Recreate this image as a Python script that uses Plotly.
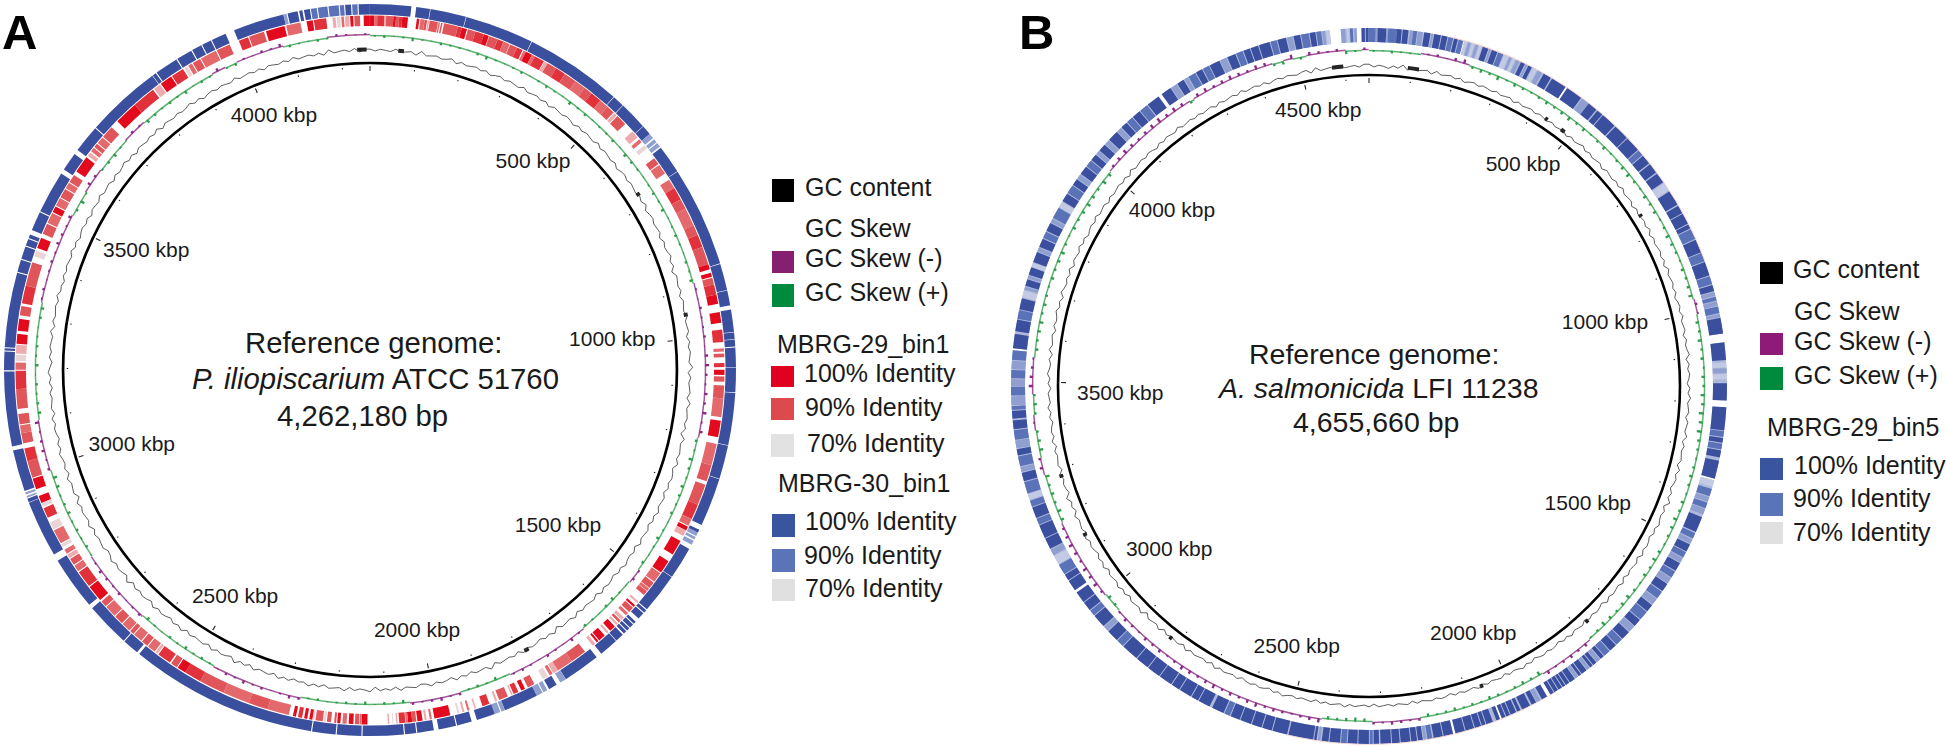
import plotly.graph_objects as go

W, H = 1946, 747
LEN_A, LEN_B = 4262.18, 4655.66

# ---- identity rings: (start kbp, end kbp, % identity) -------------------------
RED_A = [(0,8,100),(8,14,85),(14,28,95),(28,31,80),(31,45,90),(45,50,100),(50,56,90),(56,62,95),(62,73,100),
(90,95,100),(97,105,85),(105,110,90),(111,114,80),(115,131,90),(132,135,85),(137,140,90),(143,170,90),(170,178,95),(178,188,100),
(190,205,90),(205,222,95),(222,232,100),(233,250,90),(250,262,95),(262,275,85),(276,290,90),(290,302,95),(304,309,85),(309,322,100),
(322,328,85),(328,348,95),(349,356,80),(356,375,90),(375,395,95),(395,420,90),(420,441,85),(441,458,90),(458,480,95),(480,498,85),
(498,514,90),(516,522,80),(524,545,90),(565,580,80),(585,592,85),(600,608,70),(631,645,90),(647,667,85),(681,700,85),(700,725,95),
(725,745,90),(745,780,85),(780,800,90),(800,825,95),(825,860,90),(860,870,100),(877,885,100),(887,900,90),(900,920,95),(920,938,100),
(954,975,100),(988,1012,95),(1024,1030,85),(1034,1041,90),(1052,1060,95),(1065,1075,100),(1078,1088,90),(1095,1120,90),(1120,1156,85),
(1163,1195,100),(1208,1250,85),(1250,1282,90),(1289,1330,90),(1330,1360,95),(1360,1374,85),(1376,1384,100),(1385,1396,80),(1407,1437,100),
(1452,1478,100),(1480,1500,85),(1502,1515,90),(1516,1522,85),(1523,1532,90),(1548,1552,80),(1558,1562,100),(1564,1575,90),(1578,1584,85),
(1590,1596,80),(1598,1603,90),(1606,1610,80),(1614,1626,100),(1630,1634,80),(1640,1654,100),(1656,1660,100),(1664,1670,80),(1689,1720,90),
(1720,1752,85),(1752,1762,80),(1764,1770,85),(1774,1785,70),(1804,1818,90),(1824,1832,100),(1838,1848,95),(1850,1853,80),(1860,1878,90),
(1882,1886,80),(1898,1912,95),(1925,1928,80),(1938,1942,85),(1948,1952,80),(1958,1962,70),(1976,2007,100),(2012,2016,85),(2022,2026,80),
(2030,2040,100),(2042,2050,90),(2050,2058,100),(2058,2062,85),(2063,2075,95),(2078,2081,80),(2086,2088,70),(2094,2097,80),(2136,2147,100),
(2147,2151,85),(2152,2160,90),(2163,2172,100),(2176,2184,85),(2188,2194,100),(2196,2200,90),(2206,2214,90),(2216,2220,70),(2222,2236,90),
(2238,2241,70),(2242,2248,100),(2252,2258,100),(2262,2270,95),(2274,2280,100),(2288,2330,85),(2330,2368,90),(2368,2420,85),(2420,2470,90),
(2470,2503,95),(2503,2520,100),(2522,2535,90),(2538,2565,95),(2567,2572,80),(2574,2590,85),(2592,2605,90),(2607,2625,85),(2627,2635,90),
(2637,2655,85),(2657,2675,90),(2677,2700,85),(2702,2714,90),(2718,2750,100),(2752,2785,95),(2787,2800,85),(2802,2815,90),(2817,2825,80),
(2827,2836,85),(2842,2848,70),(2850,2878,85),(2880,2895,70),(2905,2925,95),(2928,2935,70),(2936,2950,100),(2964,2985,100),(2987,3020,90),
(3020,3045,95),(3055,3075,90),(3075,3090,85),(3092,3112,90),(3122,3160,90),(3160,3195,95),(3197,3211,85),(3214,3226,70),(3228,3245,80),
(3247,3266,100),(3272,3295,100),(3302,3320,90),(3325,3360,95),(3360,3406,90),(3418,3430,70),(3435,3456,100),(3464,3485,90),(3487,3508,85),
(3510,3522,100),(3524,3540,85),(3542,3560,90),(3562,3574,85),(3576,3592,90),(3600,3633,100),(3637,3645,80),(3648,3656,85),(3658,3666,90),
(3668,3682,85),(3684,3708,90),(3724,3770,100),(3770,3815,95),(3818,3832,80),(3834,3858,100),(3860,3885,95),(3888,3895,70),(3897,3905,85),
(3907,3923,90),(3925,3957,85),(3959,3986,90),(4005,4024,95),(4026,4056,90),(4060,4097,100),(4100,4128,85),(4140,4152,100),(4154,4178,95),
(4190,4196,80),(4198,4205,70),(4207,4212,85),(4214,4222,80),(4224,4230,100),(4232,4243,90),(4250,4262,100)]

BLUE_A = [(0,77,100),(86,112,100),(113,180,100),(181,310,100),(311,494,100),(495,517,100),(518,571,100),(572,590,100),(590,600,80),
(603,610,80),(612,620,80),(623,676,100),(677,865,100),(866,916,100),(917,945,100),(953,995,100),(996,1008,100),(1009,1022,100),(1024,1060,100),
(1061,1107,100),(1108,1206,100),(1207,1270,100),(1271,1362,100),(1372,1378,100),(1378,1385,80),(1387,1392,80),(1395,1403,80),(1412,1473,100),
(1474,1549,100),(1551,1557,100),(1559,1572,100),(1580,1585,100),(1587,1595,100),(1597,1603,100),(1605,1611,100),(1614,1630,100),(1631,1667,100),
(1678,1748,100),(1748,1760,80),(1768,1784,100),(1788,1796,80),(1798,1810,80),(1810,1875,100),(1875,1882,80),(1884,1895,80),(1895,1930,100),
(1940,1968,100),(1970,2003,100),(2012,2043,100),(2045,2066,100),(2068,2145,100),(2147,2193,100),(2195,2239,100),(2241,2594,100),(2599,2630,100),
(2632,2716,100),(2724,2825,100),(2838,2945,100),(2946,2953,100),(2955,2958,80),(2961,2965,80),(2968,3046,100),(3054,3194,100),(3196,3231,100),
(3233,3237,100),(3239,3379,100),(3381,3404,100),(3406,3430,100),(3432,3445,100),(3447,3454,100),(3463,3499,100),(3501,3581,100),(3590,3625,100),
(3634,3686,100),(3688,3830,100),(3831,3838,100),(3840,3884,100),(3886,3916,100),(3918,3937,100),(3939,3957,100),(3959,3987,100),(4004,4100,100),
(4100,4106,80),(4108,4127,100),(4130,4136,100),(4139,4150,100),(4152,4163,90),(4165,4183,90),(4185,4204,90),(4206,4214,90),(4216,4227,100),
(4229,4239,90),(4241,4262,100)]

BLUE_B = [(0,14,90),(14,18,80),(18,36,100),(36,40,80),(40,58,90),(58,68,100),(70,82,100),(85,92,80),(92,100,90),(102,112,80),(115,128,100),(130,134,80),
(136,150,100),(152,164,100),(166,176,90),(178,186,100),(188,198,90),(200,206,70),(208,214,80),(216,222,70),(224,230,80),(232,238,70),(240,252,100),
(254,258,80),(260,272,100),(274,285,90),(287,297,70),(299,304,80),(306,312,70),(314,322,80),(325,334,100),(336,340,80),(342,350,100),(353,362,70),
(364,374,80),(378,395,100),(398,431,100),(435,470,100),(473,490,80),(490,510,100),(513,526,100),(528,560,100),(563,596,100),(598,630,100),(632,644,90),
(646,666,100),(669,690,100),(693,715,100),(718,735,70),(738,770,100),(773,790,100),(792,815,100),(817,826,100),(828,850,90),(852,880,100),(882,900,90),
(902,931,100),(933,950,90),(952,965,100),(967,975,80),(977,985,90),(987,996,80),(998,1012,90),(1014,1020,80),(1022,1055,100),(1073,1110,100),(1115,1125,70),
(1127,1137,80),(1139,1150,70),(1158,1194,100),(1208,1256,100),(1258,1270,90),(1272,1282,100),(1284,1296,90),(1298,1313,100),(1320,1358,100),(1362,1376,70),
(1380,1396,90),(1398,1408,80),(1410,1422,90),(1424,1436,80),(1442,1475,100),(1478,1490,90),(1492,1502,80),(1504,1520,100),(1522,1534,90),(1536,1546,80),
(1548,1566,100),(1568,1582,90),(1584,1596,80),(1598,1616,100),(1618,1634,90),(1636,1650,80),(1652,1668,100),(1670,1690,90),(1692,1708,100),(1710,1724,80),
(1726,1745,100),(1747,1762,90),(1764,1780,100),(1782,1796,90),(1798,1806,100),(1808,1816,80),(1818,1826,100),(1828,1834,100),(1836,1842,80),(1844,1856,100),
(1858,1864,100),(1866,1872,80),(1874,1886,100),(1888,1896,100),(1898,1904,100),(1906,1914,100),(1916,1924,100),(1926,1934,100),(1942,1954,100),(1958,1966,80),
(1968,1978,100),(1982,2000,100),(2004,2011,100),(2014,2026,100),(2028,2036,100),(2038,2046,100),(2050,2058,100),(2066,2080,100),(2082,2090,100),(2092,2105,100),
(2107,2125,100),(2127,2147,100),(2152,2172,100),(2174,2193,100),(2196,2206,90),(2208,2214,80),(2216,2226,100),(2228,2240,100),(2242,2262,100),(2264,2280,100),
(2282,2304,100),(2307,2318,100),(2320,2326,90),(2328,2350,100),(2352,2372,100),(2374,2386,90),(2388,2410,100),(2412,2426,100),(2429,2434,80),(2437,2442,100),
(2444,2496,100),(2499,2530,100),(2532,2552,100),(2554,2575,100),(2577,2600,100),(2602,2622,100),(2624,2636,90),(2638,2664,100),(2670,2695,100),(2697,2712,100),
(2714,2740,100),(2742,2760,100),(2762,2790,100),(2792,2820,100),(2822,2850,100),(2852,2888,100),(2890,2905,90),(2907,2932,100),(2934,2945,80),(2947,2975,100),
(2977,2989,90),(2991,3010,100),(3012,3036,100),(3042,3065,100),(3067,3080,100),(3082,3104,90),(3106,3125,70),(3127,3140,80),(3142,3165,100),(3167,3195,100),
(3197,3210,90),(3212,3235,100),(3237,3250,90),(3252,3264,70),(3266,3290,90),(3292,3310,100),(3312,3322,80),(3324,3345,90),(3347,3360,100),(3362,3378,80),
(3380,3400,90),(3402,3420,100),(3424,3440,100),(3442,3450,90),(3452,3470,80),(3472,3490,90),(3492,3506,80),(3508,3525,90),(3527,3544,80),(3546,3566,90),
(3570,3600,100),(3606,3630,100),(3632,3650,90),(3652,3675,100),(3678,3692,70),(3694,3700,80),(3702,3716,100),(3718,3724,80),(3726,3742,100),(3744,3752,70),
(3754,3776,100),(3778,3786,80),(3788,3806,100),(3808,3822,90),(3824,3842,100),(3844,3852,80),(3854,3878,90),(3880,3892,70),(3894,3912,100),(3914,3932,90),
(3934,3948,100),(3950,3960,80),(3962,3980,100),(3982,3996,90),(3998,4012,100),(4014,4022,80),(4024,4040,100),(4042,4052,80),(4054,4076,100),(4078,4088,80),
(4090,4104,100),(4106,4120,90),(4122,4140,100),(4142,4160,90),(4162,4190,100),(4198,4220,100),(4222,4235,80),(4237,4252,100),(4254,4262,80),(4264,4280,90),
(4282,4296,100),(4298,4312,90),(4314,4336,100),(4338,4352,80),(4354,4372,100),(4374,4388,90),(4390,4404,100),(4406,4422,100),(4424,4447,100),(4449,4462,90),
(4464,4482,100),(4484,4496,80),(4498,4512,100),(4514,4530,90),(4532,4544,100),(4546,4556,90),(4558,4564,80),(4566,4574,70),(4597,4606,80),(4609,4614,70),
(4616,4622,90),(4625,4630,80),(4640,4647,100),(4649,4655,100)]

# stretches of the B ring with any coverage at all (pale blur under the stripes)
COVER_B = [(0,195,70),(200,431,70),(435,1055,70),(1073,1194,70),(1208,1358,70),(1362,1934,70),(1942,2046,70),(2050,2147,70),(2152,3036,70),(3042,3566,70),
(3570,4190,70),(4198,4574,70),(4597,4630,70),(4640,4655,70)]
PINK_B = [(170,900,70),(1920,2500,70)]

# ---- GC skew: sign regions and spike heights ----------------------------------
SKEW_A = [(0,888,1),(888,1203,-1),(1203,1500,1),(1500,1530,-1),(1530,1663,1),(1663,1838,-1),(1838,1945,1),(1945,2050,-1),(2050,2272,1),
(2272,2460,-1),(2460,2637,1),(2637,2796,-1),(2796,2990,1),(2990,3095,-1),(3095,3335,1),(3335,3522,-1),(3522,3575,1),(3575,3630,-1),(3630,3710,1),
(3710,3760,-1),(3760,3930,1),(3930,3960,-1),(3960,3985,1),(3985,4084,-1),(4084,4175,1),(4175,4262,-1)]
SKEW_B = [(0,80,1),(80,115,1),(115,225,-1),(225,970,1),(970,1004,-1),(1004,1797,1),(1797,1925,-1),(1925,2215,1),(2215,2320,-1),(2320,2432,1),
(2432,2950,-1),(2950,2995,1),(2995,3180,-1),(3180,3293,1),(3293,3330,-1),(3330,3393,1),(3393,3428,-1),(3428,3473,1),(3473,3554,-1),(3554,4005,1),
(4005,4240,-1),(4240,4250,1),(4250,4440,-1),(4440,4465,1),(4465,4485,-1),(4485,4517,1),(4517,4604,-1),(4604,4640,1),(4640,4655,-1)]

SPIKES_A = [2,3,1,2,4,2,1,3,2,2,1,3,4,2,1,2,3,1,2,3,2,1,4,2,3,1,2,2,3,1,4,3,2,1,2,3,2,4,1,2,3,2,1,3,2,4,2,1,3,2,
2,3,1,4,5,3,2,4,3,5,2,4,3,2,5,3,2,4,3,2,3,1,2,4,2,1,3,2,3,1,2,4,3,1,2,3,2,4,1,2,3,1,2,3,2,1,4,2,3,2,
3,2,4,3,2,3,4,2,3,1,4,2,3,2,1,3,2,3,4,2,1,3,2,4,2,3,1,2,3,2,4,2,3,1,2,4,3,2,1,3,2,3,4,2,1,3,2,3,2,4,
3,2,4,5,3,2,4,3,2,5,4,3,2,3,1,4,2,3,2,1,3,4,2,3,1,2,3,2,4,3,2,4,3,5,2,4,3,2,3,4,2,1,3,2,4,3,2,3,2,4,
1,3,2,4,2,3,2,1,3,2,4,3,2,1,3,2,3,2,1,2]
SPIKES_B = [2,1,3,2,2,1,2,3,1,4,5,3,4,3,5,2,4,3,2,3,4,3,4,5,3,4,2,3,4,2,3,4,5,3,2,4,3,4,2,3,5,4,3,2,4,3,4,5,3,2,
4,3,5,3,4,2,4,3,5,4,6,5,6,4,3,2,3,4,3,2,4,3,5,4,3,2,4,5,3,4,2,3,5,4,3,4,5,3,2,4,3,4,3,2,4,5,3,4,3,2,
3,4,2,3,2,4,3,2,4,3,2,3,4,2,3,4,5,4,3,4,5,4,3,2,3,4,3,5,4,3,4,3,5,4,3,4,5,3,2,4,3,4,2,3,4,2,3,4,3,5,
4,5,3,4,5,4,3,4,5,3,4,3,5,4,3,5,4,3,2,3,4,3,5,4,3,2,4,3,4,5,3,4,3,2,4,3,4,5,3,2,4,3,4,5,4,3,5,4,3,4,
5,4,3,4,5,6,4,5,4,3,4,5,3,4,5,4,3,5,4,3,4,5,3,4,3,2,3,4,2,3]

# ---- GC content: deviation from the ring, clockwise from 0 kbp -----------------
GC_A = [1,-1,1,0,-1,2,-1,0,1,-2,3,-1,0,1,-1,0,2,-2,1,-1,0,1,-1,1,-2,0,1,-1,1,0,-1,2,-1,0,1,-1,1,-2,1,0,
-1,1,0,-2,1,-1,1,0,-1,2,-1,1,0,-1,1,-2,0,1,-1,1,0,-1,1,-1,2,-2,0,1,-1,0,1,-2,1,-1,0,2,-1,1,-3,1,
0,-1,1,-2,1,0,-1,2,-1,0,1,-2,1,-1,1,0,-1,3,-2,1,-1,0,1,-2,2,-1,0,1,-1,1,-3,2,-1,0,1,-1,2,-2,0,1,
-1,1,-2,1,0,-1,2,-1,1,-2,1,0,-1,2,-2,1,-1,0,2,-1,1,-2,0,1,-1,2,-2,1,0,-1,1,-2,2,-1,0,1,-3,2,-1,1,
-2,0,1,-1,2,-2,1,-1,0,1,-2,3,-1,0,1,-2,1,-1,2,-2,0,1,-1,2,-1,-2,1,0,-1,2,-2,1,-1,1,-3,2,0,-1,1,-2,
2,-1,0,1,-2,1,-1,2,-1,0,-2,1,-1,2,-2,1,0,-1,2,-2,1,-1,3,-2,0,1,-1,2,-2,1,0,-1,1,-2,2,-1,1,-2,0,1,
-1,2,-2,0,1,-1,1,-2,3,-2,0,1,-1,2,-1,-2,1,0,-1,1,-2,2,-1,0,1,-1,2,-3,1,0,-1,2,-2,1,-1,0,2,-1,1,-2,
0,1,-1,2,-2,1,0,-1,1,-2,1,-1,2,0,-2,1,-1,1,0,-1,2,-2,1,-1,0,1,-1,2,-1,0,-2,1,-1,1,0,-1,2,-1,1,-2,
0,1,-1,1,-2,1,0,-1,2,-1,0,1,-2,1,-1,0,2,-1,1,-2,1,0,-1,1,-1,2,-2,1,0,-1,1,-1,0,2,-1,1,-2,0,1,-1,
1,0,-1,2,-1,0,1,-1,1,-2,1,0,-1,1,-1,2,-1,0,1,-1,1,-2,3,-1,0,1,-1,2,-2,1]
GC_B = [2,-1,1,0,-2,1,-1,3,-2,1,-1,0,1,-2,2,-1,0,1,-1,1,-2,0,1,-1,1,0,-1,1,-1,0,1,-2,1,-1,0,1,-1,1,0,-1,
1,-1,0,1,-2,1,-1,0,2,-1,1,-1,0,1,-2,1,0,-1,1,-1,2,-1,0,1,-2,1,-1,0,1,-1,2,-2,1,-1,0,1,-1,1,-2,2,
-1,0,1,-1,1,-2,0,1,-1,2,-1,0,1,-2,1,-1,0,2,-2,1,-1,1,0,-2,1,-1,2,-1,0,1,-2,1,0,-1,2,-2,1,-1,0,1,
-2,2,-1,1,0,-2,1,-1,3,-2,1,-1,0,2,-1,1,-2,0,1,-1,2,-2,1,0,-1,1,-2,2,-1,0,1,-1,2,-2,0,1,-1,1,-2,1,
0,-1,2,-1,1,-2,0,1,-1,1,0,-2,1,-1,2,0,-1,1,-2,1,0,-1,1,-1,2,-1,0,1,-1,1,-2,0,1,-1,1,0,-1,1,-2,1,
0,-1,1,-1,0,1,-2,1,-1,0,1,-1,2,-1,0,1,-1,1,-2,1,0,-1,1,-1,0,2,-1,1,-2,0,1,-1,1,0,-2,1,-1,0,1,-1,
2,-2,1,-1,0,1,-1,2,-2,1,0,-1,1,-2,2,-1,0,1,-3,2,-1,0,1,-2,1,-1,2,-1,0,1,-2,2,-1,1,-2,0,1,-1,2,-2,
1,0,-1,2,-2,1,-1,3,-2,0,1,-1,2,-2,1,0,-1,1,-2,2,-1,1,0,-2,1,-1,2,-1,0,1,-2,1,-1,2,0,-1,1,-2,2,-1,
0,1,-2,1,-1,0,2,-1,1,-2,2,0,-1,1,-1,2,-2,1,0,-1,2,-1,1,-2,0,1,-1,2,-1,0,1,-2,1,-1,0,1,-1,1,-2,2,
-1,0,1,-1,1,0,-2,1,-1,1,0,-1,2,-1,0,1,-1,1,-1,0,1,-2,1,-1,0,1,-1,2,-1,0,1,-1,1,-2,0,1,-1,1,0,-1,
1,2,-2,3,-1,0,1,-1,2,-1,0,1,-1,2]
GC_BLOBS_A = [(60,72),(668,676),(944,952),(1780,1790),(4235,4255)]
GC_BLOBS_B = [(90,116),(431,438),(476,486),(745,752),(1770,1778),(2058,2066),(2818,2826),(3131,3139),(3277,3285),(4570,4596)]

# ---- labels ------------------------------------------------------------------
TICK_TEXT_A = ["500 kbp","1000 kbp","1500 kbp","2000 kbp","2500 kbp","3000 kbp","3500 kbp","4000 kbp"]
TICK_R_A = [263.5,244,245,266,265,250,253,270.6]
TICK_ANG_A = [38.2,83.2,129.9,169.8,210.6,252.3,297.8,339.2]
TICK_TEXT_B = ["500 kbp","1000 kbp","1500 kbp","2000 kbp","2500 kbp","3000 kbp","3500 kbp","4000 kbp","4500 kbp"]
TICK_R_B = [268.5,244,249,270,272,259,249,263,279]
TICK_ANG_B = [35,75.3,118.5,157.3,195.4,230.5,267.9,311.5,349.5]

RED = {100:"#e20a1c",95:"#e1323c",90:"#e0555a",85:"#e4696d",80:"#eeaaac",70:"#e9d5d5"}
BLUE = {100:"#3b4f9f",95:"#4759a8",90:"#5a72b8",80:"#8f9fd0",70:"#c3cbe4"}
PALE = {70:"#aeb8dc"}
PINK = {70:"#f4cfc9"}
FONT = "Liberation Sans, Arial, sans-serif"
INK = "#1a1a1a"

def bars(runs, length):
    th = [(s + e) / 2 / length * 360 for s, e, *_ in runs]
    wd = [(e - s) / length * 360 for s, e, *_ in runs]
    return th, wd

def ring(runs, length, r0, r1, palette, sub):
    th, wd = bars(runs, length)
    return go.Barpolar(theta=th, width=wd, base=[r0] * len(runs), r=[r1 - r0] * len(runs),
                       marker=dict(color=[palette[x[2]] for x in runs], line=dict(width=0)),
                       subplot=sub, hoverinfo="skip", showlegend=False)

def panel(fig, sub, length, red, cover, blue, pink, skew, spikes, gc, blobs, tt, tr, ta, rr):
    half = [(0, length / 2), (length / 2, length)]
    th, wd = bars(half, length)
    fig.add_trace(go.Barpolar(theta=th, width=wd, base=[rr["main"] - 1.3] * 2, r=[2.6] * 2,
                              marker=dict(color="#000", line=dict(width=0)), subplot=sub, hoverinfo="skip", showlegend=False))
    pos = list(range(0, int(length), 100))
    fig.add_trace(go.Barpolar(theta=[p / length * 360 for p in pos], width=[0.2] * len(pos),
                              base=[rr["main"] - (8 if p % 500 == 0 else 5.2) for p in pos],
                              r=[(5 if p % 500 == 0 else 1.4) for p in pos],
                              marker=dict(color="#222", line=dict(width=0)), subplot=sub, hoverinfo="skip", showlegend=False))
    if red:
        fig.add_trace(ring(red, length, rr["red"][0], rr["red"][1], RED, sub))
    if cover:
        fig.add_trace(ring(cover, length, rr["blue"][0], rr["blue"][1], PALE, sub))
    fig.add_trace(ring(blue, length, rr["blue"][0], rr["blue"][1], BLUE, sub))
    if pink:
        fig.add_trace(ring(pink, length, rr["blue"][1], rr["blue"][1] + 0.8, PINK, sub))
    # skew band
    sk = rr["skew"]
    th, wd = bars(skew, length)
    fig.add_trace(go.Barpolar(theta=th, width=wd, base=[sk - 1.2 if s[2] > 0 else sk - 0.3 for s in skew], r=[1.5] * len(skew),
                              marker=dict(color=["#5db370" if s[2] > 0 else "#a2559c" for s in skew], line=dict(width=0)),
                              subplot=sub, hoverinfo="skip", showlegend=False))
    # skew spikes
    n = len(spikes)
    sp_th, sp_base, sp_r, sp_col = [], [], [], []
    for i, v in enumerate(spikes):
        k = (i + 0.5) * length / n
        sign = next((s[2] for s in skew if s[0] <= k < s[1]), 1)
        sp_th.append(k / length * 360)
        sp_base.append(sk - v * 0.85 if sign > 0 else sk)
        sp_r.append(v * 0.85)
        sp_col.append("#2f9c4d" if sign > 0 else "#8a2a85")
    fig.add_trace(go.Barpolar(theta=sp_th, width=[0.4] * n, base=sp_base, r=sp_r,
                              marker=dict(color=sp_col, line=dict(width=0)), subplot=sub, hoverinfo="skip", showlegend=False))
    # GC content
    m = len(gc)
    fig.add_trace(go.Scatterpolar(theta=[i / m * 360 for i in range(m)] + [360],
                                  r=[rr["gc"] + 0.9 * v for v in gc] + [rr["gc"] + 0.9 * gc[0]],
                                  mode="lines", line=dict(color="#333", width=0.8), subplot=sub, hoverinfo="skip", showlegend=False))
    th, wd = bars(blobs, length)
    fig.add_trace(go.Barpolar(theta=th, width=wd, base=[rr["gc"] - 1.5] * len(blobs), r=[4] * len(blobs),
                              marker=dict(color="#222", line=dict(width=0)), subplot=sub, hoverinfo="skip", showlegend=False))
    fig.add_trace(go.Scatterpolar(theta=ta, r=tr, text=tt, mode="text", textposition="middle center",
                                  textfont=dict(family=FONT, size=21, color=INK), subplot=sub, hoverinfo="skip", showlegend=False))

def polar_layout(cx, cy, R):
    return dict(domain=dict(x=[(cx - R) / W, (cx + R) / W], y=[1 - (cy + R) / H, 1 - (cy - R) / H]),
                bgcolor="rgba(0,0,0,0)", barmode="overlay", bargap=0, hole=0,
                radialaxis=dict(visible=False, range=[0, R]),
                angularaxis=dict(visible=False, direction="clockwise", rotation=90, thetaunit="degrees"))

fig = go.Figure()
panel(fig, "polar", LEN_A, RED_A, None, BLUE_A, None, SKEW_A, SPIKES_A, GC_A, GC_BLOBS_A, TICK_TEXT_A, TICK_R_A, TICK_ANG_A,
      dict(main=307, red=(344, 354.5), blue=(355.5, 366), skew=335, gc=320))
panel(fig, "polar2", LEN_B, None, COVER_B, BLUE_B, PINK_B, SKEW_B, SPIKES_B, GC_B, GC_BLOBS_B, TICK_TEXT_B, TICK_R_B, TICK_ANG_B,
      dict(main=311, blue=(344, 358), skew=336, gc=320))

def px_x(x): return x / W
def px_y(y): return 1 - y / H

ann, shp = [], []
def text(x, y, s, size, anchor="left", weight=None, color=INK):
    ann.append(dict(x=px_x(x), y=px_y(y), xref="paper", yref="paper", text=s, showarrow=False, xanchor=anchor, yanchor="middle",
                    font=dict(family=FONT, size=size, color=color, weight=weight) if weight else dict(family=FONT, size=size, color=color)))
def swatch(x0, x1, y0, y1, col):
    shp.append(dict(type="rect", xref="paper", yref="paper", x0=px_x(x0), x1=px_x(x1), y0=px_y(y1), y1=px_y(y0),
                    fillcolor=col, line=dict(width=0)))

LEG = 25
text(0, 32, "A", 49, weight=700, color="#000")
text(1017, 32, "B", 49, weight=700, color="#000")
text(373.5, 343, "Reference genome:", 29.3, "center")
text(375, 378, "<i>P. iliopiscarium</i> ATCC 51760", 29.3, "center")
text(362.5, 415, "4,262,180 bp", 29.3, "center")
text(1374, 354, "Reference genome:", 28.5, "center")
text(1378, 388, "<i>A. salmonicida</i> LFI 11238", 28.5, "center")
text(1376, 422, "4,655,660 bp", 28.5, "center")

for lbl, x, y in [("GC content",803,187),("GC Skew",803,228),("GC Skew (-)",803,258),("GC Skew (+)",803,292),("MBRG-29_bin1",775,344),
                  ("100% Identity",802,373),("90% Identity",803,407),("70% Identity",805,443),("MBRG-30_bin1",776,483),
                  ("100% Identity",803,521),("90% Identity",802,555),("70% Identity",803,588),
                  ("GC content",1791,269),("GC Skew",1792,311),("GC Skew (-)",1792,341),("GC Skew (+)",1792,375),("MBRG-29_bin5",1765,427),
                  ("100% Identity",1792,465),("90% Identity",1791,498),("70% Identity",1791,532)]:
    text(x, y, lbl, LEG)
for x0, x1, y0, y1, c in [(772,794,179,202,"#000"),(772,794,251,273,"#84206f"),(772,794,284,307,"#008a3e"),
                          (771,794,366,387,"#e10020"),(771,794,398,420,"#dd4a4e"),(771,794,434,457,"#e2e2e2"),
                          (772,795,514,537,"#3a559f"),(772,795,549,572,"#5a74b8"),(772,795,579,601,"#e0e0e0"),
                          (1760,1783,262,284,"#000"),(1760,1783,333,355,"#8e1b78"),(1760,1783,367,390,"#008a3e"),
                          (1760,1783,458,480,"#3a559f"),(1760,1783,493,516,"#5a74b8"),(1760,1783,522,544,"#e0e0e0")]:
    swatch(x0, x1, y0, y1, c)

fig.update_layout(width=W, height=H, margin=dict(l=0, r=0, t=0, b=0), paper_bgcolor="white", plot_bgcolor="white",
                  showlegend=False, annotations=ann, shapes=shp,
                  polar=polar_layout(370, 370, 368), polar2=polar_layout(1369, 386, 361))
fig.write_html("out.html", config=dict(displayModeBar=False),
               post_script="document.body.style.margin='0';document.documentElement.style.overflow='hidden';")
